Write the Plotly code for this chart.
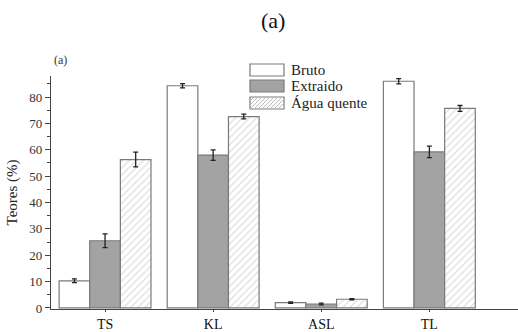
import plotly.graph_objects as go

categories = ["TS", "KL", "ASL", "TL"]
series_names = ["Bruto", "Extraido", "Água quente"]
bruto = [10.3, 84.3, 2.0, 86.0]
bruto_err = [0.7, 0.8, 0.3, 1.0]
extraido = [25.5, 58.0, 1.5, 59.2]
extraido_err = [2.6, 2.0, 0.3, 2.2]
agua = [56.3, 72.6, 3.3, 75.7]
agua_err = [2.8, 0.9, 0.2, 1.1]
y_ticks = [0, 10, 20, 30, 40, 50, 60, 70, 80]

FONT = "Liberation Serif, Times New Roman, serif"
W, H = 518, 332
L, R, T, B = 51, 0, 76, 23
PW, PH = W - L - R, H - T - B

edge = "#7a7a7a"
fig = go.Figure()
styles = [
    dict(color="white", pattern=None),
    dict(color="#a3a3a3", pattern=None),
    dict(color="white", pattern=dict(shape="/", fgcolor="#bdbdbd", bgcolor="white", size=5, solidity=0.25)),
]
for name, vals, errs, st in zip(series_names, [bruto, extraido, agua],
                                [bruto_err, extraido_err, agua_err], styles):
    marker = dict(color=st["color"], line=dict(color=edge, width=1.2))
    if st["pattern"]:
        marker["pattern"] = st["pattern"]
    fig.add_trace(go.Bar(
        x=categories, y=vals, name=name, marker=marker,
        error_y=dict(type="data", array=errs, visible=True, color="#222222",
                     thickness=1.3, width=2.5),
        showlegend=False, hoverinfo="skip",
    ))

def px2paper(x, y):
    return (x - L) / PW, (H - B - y) / PH

shapes = []
annotations = []
box_x0, box_x1 = 250, 284
rows = [(64, 76), (80, 92), (97, 109)]
fills = ["white", "#a3a3a3", "white"]
for i, ((y0, y1), name, fc) in enumerate(zip(rows, series_names, fills)):
    ax0, ay0 = px2paper(box_x0, y1)
    ax1, ay1 = px2paper(box_x1, y0)
    shapes.append(dict(type="rect", xref="paper", yref="paper", x0=ax0, x1=ax1,
                       y0=ay0, y1=ay1, fillcolor=fc, line=dict(color=edge, width=1.2), layer="above"))
    if i == 2:
        h = y1 - y0
        k = -h
        while k < box_x1 - box_x0:
            xa, ya = box_x0 + k, y1
            xb, yb = box_x0 + k + h, y0
            if xa < box_x0:
                ya = y1 - (box_x0 - xa)
                xa = box_x0
            if xb > box_x1:
                yb = y0 + (xb - box_x1)
                xb = box_x1
            if xb > xa:
                p0 = px2paper(xa, ya)
                p1 = px2paper(xb, yb)
                shapes.append(dict(type="line", xref="paper", yref="paper",
                                   x0=p0[0], y0=p0[1], x1=p1[0], y1=p1[1],
                                   line=dict(color="#bdbdbd", width=1), layer="above"))
            k += 4
    tx, ty = px2paper(289, (y0 + y1) / 2)
    annotations.append(dict(text=name, xref="paper", yref="paper", x=tx, y=ty,
                            xanchor="left", yanchor="middle", showarrow=False,
                            font=dict(family=FONT, size=15, color="#222222")))

tx, ty = px2paper(273, 20)
annotations.append(dict(text="(a)", xref="paper", yref="paper", x=tx, y=ty,
                        xanchor="center", yanchor="middle", showarrow=False,
                        font=dict(family=FONT, size=22, color="#111111")))
tx, ty = px2paper(60, 69)
annotations.append(dict(text="(a)", xref="paper", yref="paper", x=tx, y=ty,
                        xanchor="center", yanchor="bottom", showarrow=False,
                        font=dict(family=FONT, size=12, color="#333333")))

fig.update_layout(
    width=W, height=H,
    margin=dict(l=L, r=R, t=T, b=B, pad=0),
    plot_bgcolor="white", paper_bgcolor="white",
    barmode="group", bargap=0.15, bargroupgap=0,
    font=dict(family=FONT, color="#222222"),
    shapes=shapes, annotations=annotations,
    xaxis=dict(range=[-0.5, 3.82], showline=True, linecolor="#444444", linewidth=1.2,
               ticks="outside", ticklen=2, tickcolor="#444444", showgrid=False,
               tickfont=dict(family=FONT, size=14, color="#111111"), automargin=False),
    yaxis=dict(range=[-0.4, 88], showline=True, linecolor="#444444", linewidth=1.2,
               ticks="outside", ticklen=5, tickcolor="#444444", showgrid=False,
               tickvals=y_ticks, zeroline=False,
               minor=dict(ticks="outside", ticklen=3, dtick=5, tickcolor="#444444", showgrid=False),
               tickfont=dict(family=FONT, size=13, color="#333333"), automargin=False,
               title=dict(text="Teores (%)", font=dict(family=FONT, size=15, color="#222222"), standoff=8)),
)

fig.write_html("out.html", config={"displayModeBar": False, "staticPlot": True},
               post_script="document.body.style.margin='0';document.body.style.overflow='hidden';")
